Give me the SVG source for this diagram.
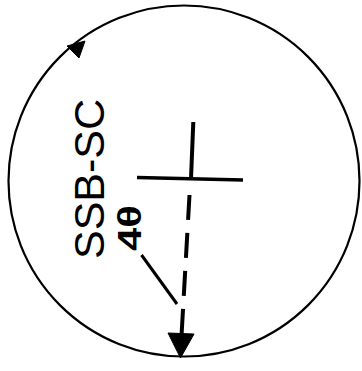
<svg xmlns="http://www.w3.org/2000/svg" width="362" height="371" viewBox="0 0 362 371">
  <style>
    .ln { stroke: #000; fill: none; stroke-linecap: butt; }
    .lbl { font-family: "Liberation Sans", Arial, sans-serif; fill: #000; }
    .head { fill: #000; stroke: #000; stroke-width: 1; stroke-linejoin: miter; }
  </style>
  <rect width="362" height="371" fill="#fff"/>
  <g id="phasor-circle">
    <circle class="ln" cx="184" cy="181" r="175.5" stroke-width="2.2"/>
    <polygon class="head" points="85,41 67,46 79,58"/>
  </g>
  <g id="axes">
    <line class="ln" x1="193.3" y1="122" x2="191" y2="179" stroke-width="4"/>
    <line class="ln" x1="137" y1="177.5" x2="243" y2="180" stroke-width="3.5"/>
  </g>
  <g id="label-ssbsc">
    <text class="lbl" font-size="43" transform="translate(104,259) rotate(-90)">SSB-SC</text>
  </g>
  <g id="label-dtheta">
    <text class="lbl" font-size="34" font-weight="bold" textLength="46" lengthAdjust="spacingAndGlyphs" transform="translate(141,251) rotate(-90)">4θ</text>
  </g>
  <g id="connectors">
    <line class="ln" x1="189.5" y1="195" x2="181.6" y2="334" stroke-width="4" stroke-dasharray="25 13"/>
    <polygon class="head" points="168,333 194,334 180.5,358"/>
    <line class="ln" x1="141.5" y1="255" x2="177" y2="304" stroke-width="3"/>
  </g>
</svg>
